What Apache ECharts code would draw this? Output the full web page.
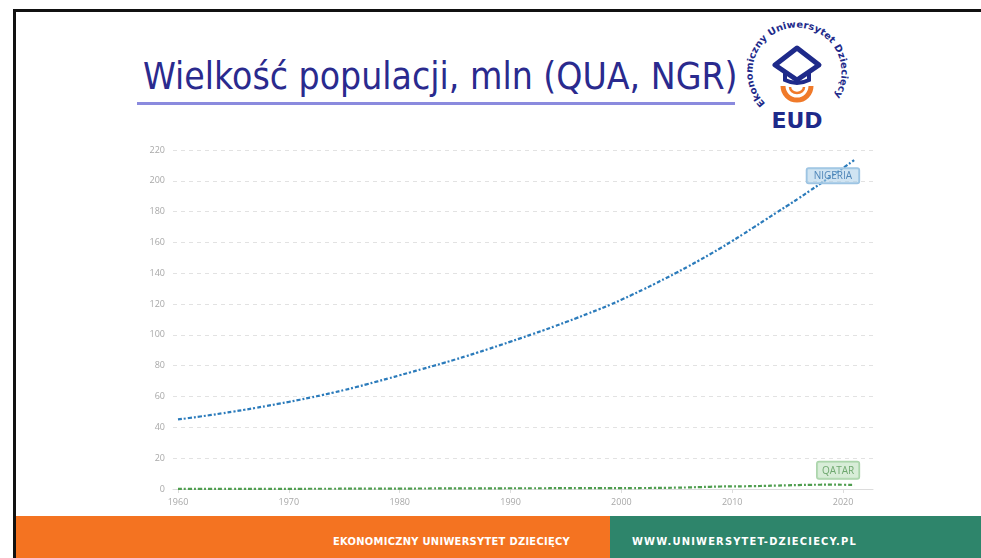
<!DOCTYPE html>
<html lang="pl">
<head>
    <meta charset="UTF-8">
    <title>Wielkość populacji</title>
    <style>
        html,body{margin:0;padding:0;width:981px;height:558px;overflow:hidden;background:#fff;}
        .slide{position:relative;width:981px;height:558px;}
        .border_top{position:absolute;left:13px;top:9px;width:968px;height:3px;background:#111;}
        .border_left{position:absolute;left:13px;top:9px;width:3px;height:549px;background:#111;}
        .title{position:absolute;left:143px;top:55px;font-family:"DejaVu Sans Condensed","DejaVu Sans",sans-serif;font-size:37px;color:#2a2a8e;white-space:nowrap;}
        .title_line{position:absolute;left:137px;top:102px;width:598px;height:3px;background:#8a8ade;}
        .foot_left{position:absolute;left:16px;top:516px;width:594px;height:42px;background:#f47321;}
        .foot_right{position:absolute;left:610px;top:516px;width:371px;height:42px;background:#2e856b;}
        .foot_text{position:absolute;top:535px;font-family:"DejaVu Sans Condensed","DejaVu Sans",sans-serif;font-weight:bold;font-size:11px;color:#fff;white-space:nowrap;}
        .panel{position:absolute;left:137px;top:120px;width:740px;height:396px;background:#fff;}
        #chart{position:absolute;left:0;top:0;width:981px;height:558px;}
        .logo{position:absolute;left:745px;top:20px;width:104px;height:112px;}
    </style>
</head>
<body>
<script src="https://cdn.jsdelivr.net/npm/echarts@6/dist/echarts.min.js"></script>
<div class="slide">
    <div class="foot_left"></div>
    <div class="foot_right"></div>
    <div class="foot_text" style="left:333px;letter-spacing:0.3px">EKONOMICZNY UNIWERSYTET DZIECIĘCY</div>
    <div class="foot_text" style="left:632px;letter-spacing:1.2px">WWW.UNIWERSYTET-DZIECIECY.PL</div>
    <div class="panel"></div>
    <div class="border_top"></div>
    <div class="border_left"></div>
    <div class="title">Wielkość populacji, mln (QUA, NGR)</div>
    <div class="title_line"></div>
    <!-- logo: centre of ring at (52,52) -->
    <svg class="logo" viewBox="0 0 104 112">
        <defs>
            <path id="ring" d="M 20.5 83.5 A 44.5 44.5 0 1 1 83.5 83.5"/>
        </defs>
        <text font-family="DejaVu Sans,sans-serif" font-weight="bold" font-size="9.5" fill="#1e2a8a">
            <textPath href="#ring" textLength="200" lengthAdjust="spacingAndGlyphs">Ekonomiczny Uniwersytet Dziecięcy</textPath>
        </text>
        <path d="M 38 66 A 14 14 0 0 0 66 66" fill="none" stroke="#f07a2a" stroke-width="5"/>
        <path d="M 45 67 A 7 6 0 0 0 59 67" fill="none" stroke="#f07a2a" stroke-width="2.5"/>
        <path d="M 40 52 L 40 60 Q 52 66 64 60 L 64 52" fill="none" stroke="#1e2a8a" stroke-width="4"/>
        <path d="M 52 28 L 74 45 L 52 60 L 30 45 Z" fill="#fff" stroke="#1e2a8a" stroke-width="5" stroke-linejoin="round"/>
        <text x="52" y="108" text-anchor="middle" font-family="DejaVu Sans,sans-serif" font-weight="bold" font-size="22" fill="#1e2a8a">EUD</text>
    </svg>
    <div id="chart"></div>
</div>
<script>
    let years=[];
    for(let y=1960;y<=2021;y++){years.push(y);}

    // mln
    let nigeria=[45.14,46.06,47.03,48.05,49.12,50.24,51.41,52.63,53.89,55.20,
        56.55,57.95,59.41,60.94,62.55,64.24,66.02,67.88,69.82,71.80,
        73.80,75.79,77.79,79.81,81.88,84.01,86.22,88.50,90.83,93.21,
        95.62,98.07,100.55,103.08,105.67,108.32,111.04,113.84,116.70,119.64,
        122.85,126.15,129.59,133.12,136.75,140.49,144.33,148.29,152.38,156.59,
        160.95,165.46,170.08,174.73,179.38,183.99,188.67,193.50,198.39,203.30,
        208.33,213.40];
    let qatar=[0.05,0.05,0.06,0.06,0.07,0.08,0.09,0.10,0.11,0.12,
        0.13,0.14,0.15,0.16,0.17,0.19,0.21,0.23,0.25,0.26,
        0.28,0.30,0.32,0.35,0.37,0.39,0.41,0.43,0.44,0.46,
        0.48,0.49,0.50,0.50,0.51,0.51,0.52,0.54,0.56,0.58,
        0.59,0.61,0.64,0.69,0.76,0.87,1.02,1.22,1.44,1.63,
        1.71,1.76,1.88,2.04,2.22,2.41,2.57,2.72,2.78,2.83,
        2.76,2.69];
    let xTicks=[1960,1970,1980,1990,2000,2010,2020];

    function pairs(vals){
        return years.map(function(y,i){return [y,vals[i]];});
    }

    var myChart=echarts.init(document.getElementById('chart'));
    var option={
        animation:false,
        backgroundColor:'transparent',
        grid:{left:173,right:108,top:150,bottom:69},
        xAxis:{
            type:'value',min:1959.55,max:2022.7,
            splitLine:{show:false},
            axisLine:{lineStyle:{color:'#dcdcdc'}},
            axisTick:{customValues:xTicks,length:4,lineStyle:{color:'#dcdcdc'}},
            axisLabel:{customValues:xTicks,color:'#a8a8a8',fontSize:9,margin:9,fontFamily:'Open Sans',
                formatter:function(v){return String(v);}}
        },
        yAxis:{
            type:'value',min:0,max:220,interval:20,
            axisLine:{show:false},axisTick:{show:false},
            axisLabel:{color:'#a8a8a8',fontSize:9,margin:8,fontFamily:'Open Sans'},
            splitLine:{lineStyle:{color:'#e2e2e2',type:[4,4]}}
        },
        series:[
            {
                name:'NIGERIA',type:'line',data:pairs(nigeria),showSymbol:false,smooth:true,
                lineStyle:{color:'#2b7bbb',width:2.2,type:[4,2,2,2]},
                endLabel:{show:true,formatter:'NIGERIA',distance:0,align:'right',verticalAlign:'top',offset:[5,8],
                    color:'#4f86b8',fontSize:10,fontFamily:'Open Sans',
                    backgroundColor:'rgba(170,205,232,0.55)',borderColor:'#9cc3e2',borderWidth:1,borderRadius:2,padding:[3,7,2,7]}
            },
            {
                name:'QATAR',type:'line',data:pairs(qatar),showSymbol:false,smooth:true,
                lineStyle:{color:'#4f9e4f',width:2.2,type:[4,2,2,2]},
                endLabel:{show:true,formatter:'QATAR',distance:0,align:'right',verticalAlign:'bottom',offset:[5,-6],
                    color:'#6fa86f',fontSize:10,fontFamily:'Open Sans',
                    backgroundColor:'rgba(190,225,190,0.6)',borderColor:'#a9d3a9',borderWidth:1,borderRadius:2,padding:[4,5,3,5]}
            }
        ]
    };
    myChart.setOption(option);
</script>
</body>
</html>
